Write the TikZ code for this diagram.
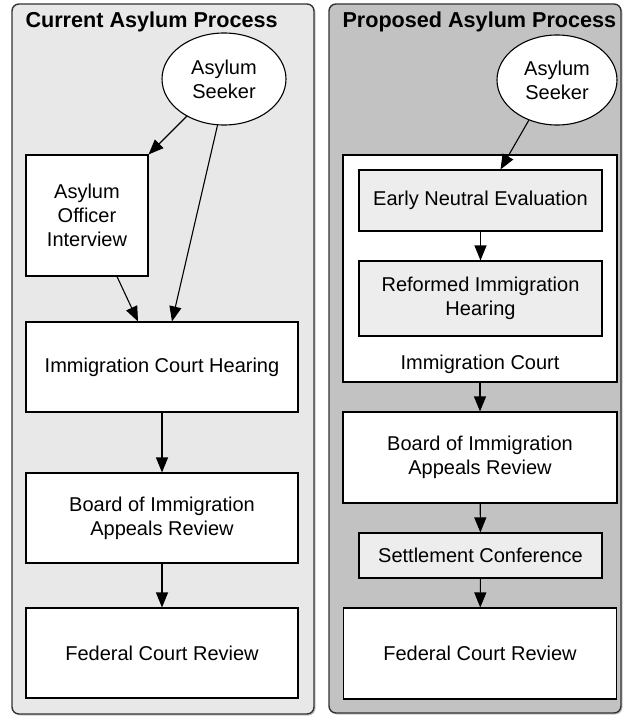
\documentclass[tikz,border=0pt]{standalone}
\usepackage{fontspec}
\setmainfont{Liberation Sans}
\usetikzlibrary{shapes.geometric,arrows.meta,shadows}

\begin{document}
\begin{tikzpicture}[x=1pt, y=-1pt,
    font=\fontsize{20}{24}\selectfont,
    panel/.style={draw=black!80, line width=1.4pt, rounded corners=7pt,
      drop shadow={shadow xshift=1.5pt, shadow yshift=-1.5pt, opacity=0.45}},
    seeker/.style={ellipse, draw, line width=1.1pt, fill=white, inner sep=0pt, align=center},
    box/.style={rectangle, draw, line width=1.1pt, fill=white, inner sep=0pt, align=center},
    subbox/.style={box, fill=black!7},
    title/.style={anchor=base west, font=\fontsize{21.6}{24}\selectfont\bfseries},
    flow/.style={line width=1.1pt, -{Triangle[length=15pt, width=12pt]}}]
    \useasboundingbox (0, 0) rectangle (623, 717);

    \filldraw[panel, fill=black!9] (12, 4) rectangle (314, 714);
    \node[title] (curT) at (22, 28) {Current Asylum Process};
    \node[seeker, minimum width=124pt, minimum height=92pt] (seekL) at (224, 79) {Asylum\\Seeker};
    \node[box, minimum width=122pt, minimum height=121pt] (offc) at (87, 215.5) {Asylum\\Officer\\Interview};
    \node[box, minimum width=272pt, minimum height=90pt] (hearL) at (162, 367) {Immigration Court Hearing};
    \node[box, minimum width=272pt, minimum height=90pt] (boardL) at (162, 518) {Board of Immigration\\Appeals Review};
    \node[box, minimum width=272pt, minimum height=90pt] (fedL) at (162, 653) {Federal Court Review};
    \draw[flow] (seekL.225) -- (offc.north east);
    \draw[flow] (seekL.262) -- ([xshift=10pt]hearL.north);
    \draw[flow] ([xshift=30pt]offc.south) -- ([xshift=-24pt]hearL.north);
    \draw[flow] (hearL) -- (boardL);
    \draw[flow] (boardL) -- (fedL);

    \filldraw[panel, fill=black!24] (329, 4) rectangle (621, 713);
    \node[title] (propT) at (339, 28) {Proposed Asylum Process};
    \node[seeker, minimum width=120pt, minimum height=90pt] (seekR) at (557, 80) {Asylum\\Seeker};
    \node[box, minimum width=274pt, minimum height=227pt] (court) at (480, 268.5) {};
    \node[subbox, minimum width=243pt, minimum height=61pt] (ene) at (480.5, 200.5) {Early Neutral Evaluation};
    \node[subbox, minimum width=243pt, minimum height=75pt] (reform) at (480.5, 298.5) {Reformed Immigration\\Hearing};
    \node[anchor=base] (courtT) at (480, 369) {Immigration Court};
    \node[box, minimum width=274pt, minimum height=91pt] (boardR) at (480, 457.5) {Board of Immigration\\Appeals Review};
    \node[subbox, minimum width=243pt, minimum height=45pt] (settle) at (480.5, 555.5) {Settlement Conference};
    \node[box, minimum width=273pt, minimum height=91pt] (fedR) at (480, 653.5) {Federal Court Review};
    \draw[flow] (seekR.235) -- ([xshift=20pt]ene.north);
    \draw[flow] (ene) -- (reform);
    \draw[flow] (court) -- (boardR);
    \draw[flow] (boardR) -- (settle);
    \draw[flow] (settle) -- (fedR);
\end{tikzpicture}
\end{document}
